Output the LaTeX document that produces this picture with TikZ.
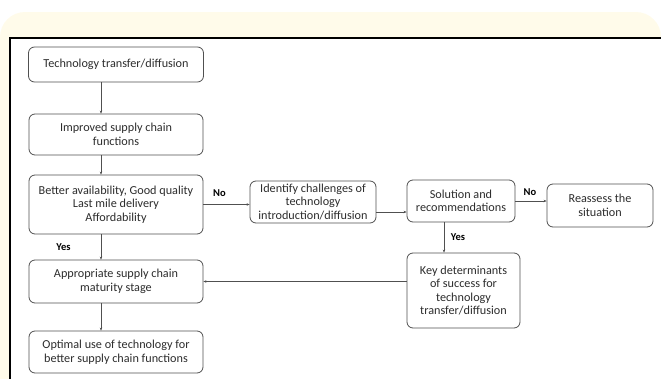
\documentclass[tikz,border=0pt]{standalone}
\usepackage{fontspec}
\setmainfont{Carlito}
\usetikzlibrary{arrows.meta}

\definecolor{cream}{RGB}{255,251,234}
\definecolor{boxline}{RGB}{80,80,80}
\definecolor{txt}{RGB}{45,45,45}

\tikzset{
  box/.style={draw=boxline, line width=0.8pt, rounded corners=6pt, align=center,
    text=txt, font=\fontsize{12.2}{13.6}\selectfont, inner sep=1pt},
  arr/.style={draw=boxline, line width=0.5pt, -{Stealth[length=3pt,width=2.5pt]}},
  lab/.style={text=black, font=\fontsize{10.5}{12}\selectfont\bfseries}
}

\begin{document}
\begin{tikzpicture}[x=1pt, y=-1pt]

% Page size
\useasboundingbox (0,0) rectangle (661,378);

% Cream panel and white frame
\fill[cream, rounded corners=25pt] (0,12) rectangle (661,420);
\fill[white] (10,38) rectangle (670,400);
\draw[line width=1.4pt] (10,400) -- (10,38) -- (670,38);

% Left column
\node[box, minimum width=175pt, minimum height=35pt] (tech) at (116,64.5) {Technology transfer/diffusion};
\node[box, minimum width=174pt, minimum height=41pt] (improved) at (116,134.5) {Improved supply chain\\functions};
\node[box, minimum width=174pt, minimum height=59pt] (better) at (116,204.5) {Better availability, Good quality\\Last mile delivery\\Affordability};
\node[box, minimum width=174pt, minimum height=43pt] (approp) at (116,281.5) {Appropriate supply chain\\maturity stage};
\node[box, minimum width=174pt, minimum height=42pt] (optimal) at (116,352) {Optimal use of technology for\\better supply chain functions};

% Right part
\node[box, minimum width=126pt, minimum height=42pt] (identify) at (313,202) {Identify challenges of\\technology\\introduction/diffusion};
\node[box, minimum width=108pt, minimum height=42pt] (solution) at (461,201) {Solution and\\recommendations};
\node[box, minimum width=106pt, minimum height=43pt] (reassess) at (600,205.5) {Reassess the\\situation};
\node[box, minimum width=113pt, minimum height=75pt] (keydet) at (463.5,290.5) {Key determinants\\of success for\\technology\\transfer/diffusion};

% Line of the vertical arrows
\coordinate (axis) at (101,0);

% Down the left column
\draw[arr] (tech.south -| axis) -- (improved.north -| axis);
\draw[arr] (improved.south -| axis) -- (better.north -| axis);
\draw[arr] (better.south -| axis) -- (approp.north -| axis);
\draw[arr] (approp.south -| axis) -- (optimal.north -| axis);

% Across to the right
\draw[arr] (better.east) -- (better.east -| identify.west);
\draw[arr] ([yshift=-10pt]identify.east) -- ([yshift=-10pt]identify.east -| solution.west);
\draw[arr] (solution.east) -- (solution.east -| reassess.west);
\draw[arr] ([xshift=-17pt]solution.south) -- ([xshift=-17pt]solution.south |- keydet.north);
\draw[arr] (approp.east -| keydet.west) -- (approp.east);

% Yes / No labels
\node[lab] (no1) at (219.5,193) {No};
\node[lab] (yes1) at (63.5,247) {Yes};
\node[lab] (no2) at (530,192) {No};
\node[lab] (yes2) at (458,237) {Yes};

\end{tikzpicture}
\end{document}
